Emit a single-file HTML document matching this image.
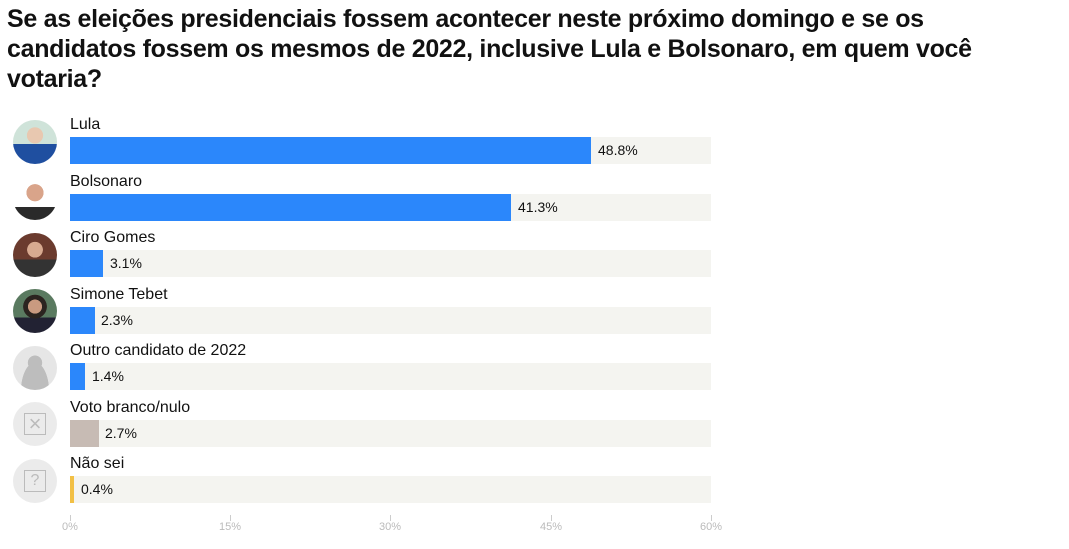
<!DOCTYPE html>
<html><head><meta charset="utf-8"><style>
body{margin:0;width:1069px;height:549px;background:#fff;font-family:"Liberation Sans",sans-serif;position:relative;overflow:hidden;color:#111}
h1{position:absolute;left:7px;top:4px;margin:0;font-size:25px;line-height:30px;font-weight:bold;width:965px;letter-spacing:-0.3px}
.lab{position:absolute;left:70px;font-size:16px;color:#111}
.trk{position:absolute;left:70px;width:641px;height:27px;background:#f4f4f0}
.bar{position:absolute;left:70px;height:27px;background:#2b87fb}
.val{position:absolute;font-size:14px;color:#111;line-height:27px}
.av{position:absolute;left:13px;width:44px;height:44px;border-radius:50%;overflow:hidden}
.tick{position:absolute;top:515px;width:1px;height:6px;background:#ccc}
.tl{position:absolute;top:521px;font-size:11px;color:#bbb;width:40px;text-align:center}
</style></head><body>
<h1>Se as eleições presidenciais fossem acontecer neste próximo domingo e se os candidatos fossem os mesmos de 2022, inclusive Lula e Bolsonaro, em quem você votaria?</h1>

<div class="av" style="top:120px;background:radial-gradient(circle at 50% 35%,#e8c8b0 0 22%,transparent 23%),linear-gradient(#cfe3d9 0 55%,#1f4fa0 55%)"></div>
<div class="av" style="top:176px;background:radial-gradient(circle at 50% 38%,#d9a48a 0 24%,transparent 25%),linear-gradient(#fff 0 70%,#2a2a2a 70%)"></div>
<div class="av" style="top:233px;background:radial-gradient(circle at 50% 38%,#d8aa90 0 22%,transparent 23%),linear-gradient(#6b3b2e 0 60%,#333 60%)"></div>
<div class="av" style="top:289px;background:radial-gradient(circle at 50% 40%,#c99a80 0 20%,#2b2420 21% 34%,transparent 35%),linear-gradient(#5a7a60 0 65%,#223 65%)"></div>
<div class="av" style="top:346px;background:radial-gradient(circle at 50% 38%,#bdbdbd 0 20%,transparent 21%),radial-gradient(ellipse at 50% 105%,#bdbdbd 0 45%,#e6e6e6 46%)"></div>
<div class="av" style="top:402px;background:#ebebeb"><div style="position:absolute;left:11px;top:11px;width:20px;height:20px;border:1.5px solid #bbb;color:#bbb;font-size:22px;line-height:20px;text-align:center">×</div></div>
<div class="av" style="top:459px;background:#ebebeb"><div style="position:absolute;left:11px;top:11px;width:20px;height:20px;border:1.5px solid #bbb;color:#bbb;font-size:16px;line-height:20px;text-align:center">?</div></div>

<div class="lab" style="top:116px">Lula</div>
<div class="trk" style="top:137px"></div><div class="bar" style="top:137px;width:521px"></div><div class="val" style="top:137px;left:598px">48.8%</div>

<div class="lab" style="top:173px">Bolsonaro</div>
<div class="trk" style="top:194px"></div><div class="bar" style="top:194px;width:441px"></div><div class="val" style="top:194px;left:518px">41.3%</div>

<div class="lab" style="top:229px">Ciro Gomes</div>
<div class="trk" style="top:250px"></div><div class="bar" style="top:250px;width:33px"></div><div class="val" style="top:250px;left:110px">3.1%</div>

<div class="lab" style="top:286px">Simone Tebet</div>
<div class="trk" style="top:307px"></div><div class="bar" style="top:307px;width:25px"></div><div class="val" style="top:307px;left:101px">2.3%</div>

<div class="lab" style="top:342px">Outro candidato de 2022</div>
<div class="trk" style="top:363px"></div><div class="bar" style="top:363px;width:15px"></div><div class="val" style="top:363px;left:92px">1.4%</div>

<div class="lab" style="top:399px">Voto branco/nulo</div>
<div class="trk" style="top:420px"></div><div class="bar" style="top:420px;width:29px;background:#c7bbb4"></div><div class="val" style="top:420px;left:105px">2.7%</div>

<div class="lab" style="top:455px">Não sei</div>
<div class="trk" style="top:476px"></div><div class="bar" style="top:476px;width:4px;background:#f2c045"></div><div class="val" style="top:476px;left:81px">0.4%</div>

<div class="tick" style="left:70px"></div><div class="tl" style="left:50px">0%</div>
<div class="tick" style="left:230px"></div><div class="tl" style="left:210px">15%</div>
<div class="tick" style="left:390px"></div><div class="tl" style="left:370px">30%</div>
<div class="tick" style="left:551px"></div><div class="tl" style="left:531px">45%</div>
<div class="tick" style="left:711px"></div><div class="tl" style="left:691px">60%</div>
</body></html>
